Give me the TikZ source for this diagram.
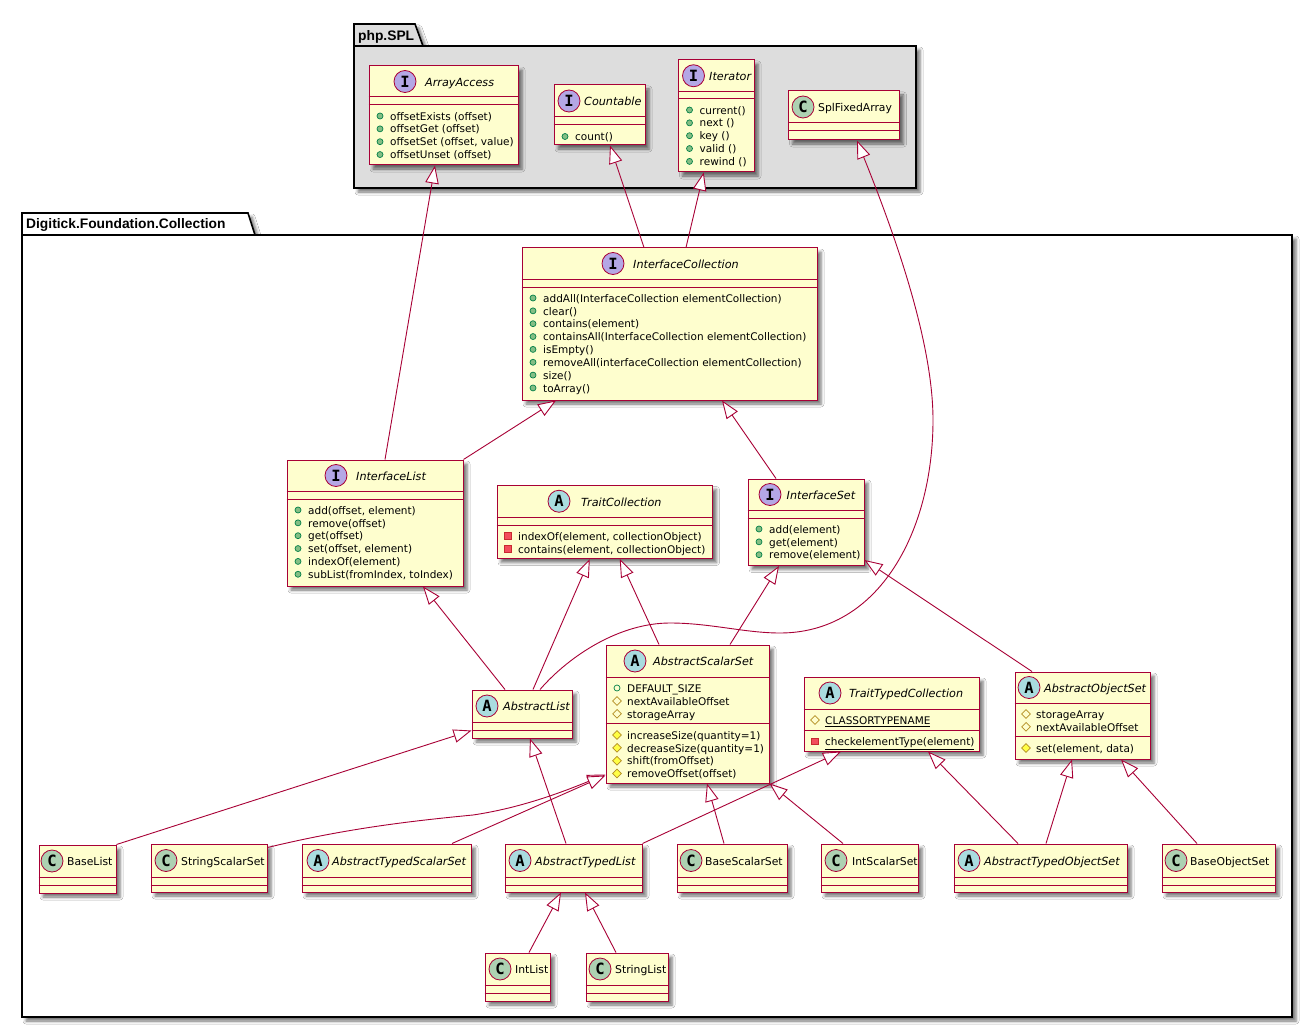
\documentclass[tikz,border=0pt]{standalone}
\usepackage{fontspec}
\setmainfont{DejaVu Sans}
\newfontfamily\spotfont{DejaVu Sans Mono}
\newfontfamily\pkgfont{Liberation Sans}
\usetikzlibrary{arrows.meta,positioning,calc,shapes.geometric,shadows.blur}
\definecolor{border}{HTML}{A80036}
\definecolor{cream}{HTML}{FEFECE}
\definecolor{pkgfill}{HTML}{DDDDDD}
\definecolor{spoti}{HTML}{B4A7E5}
\definecolor{spota}{HTML}{A9DCDF}
\definecolor{spotc}{HTML}{ADD1B2}
\definecolor{pubdraw}{HTML}{038048}
\definecolor{pubfill}{HTML}{84BE84}
\definecolor{protdraw}{HTML}{B38D22}
\definecolor{protfill}{HTML}{FFFF44}
\definecolor{privdraw}{HTML}{C82930}
\definecolor{privfill}{HTML}{F24D5C}
\tikzset{
  softshadow/.style={blur shadow={shadow xshift=4pt,shadow yshift=-4pt,shadow blur radius=3pt,shadow opacity=55}},
  package/.style={draw=black,line width=1.6pt,softshadow},
  pkgtitle/.style={anchor=west,inner sep=0pt,font=\pkgfont\fontsize{13.8}{15}\selectfont\bfseries},
  classbox/.style={draw=border,fill=cream,line width=1pt,inner sep=0pt,softshadow},
  classline/.style={draw=border,line width=1pt},
  spot/.style={circle,draw=border,line width=0.8pt,inner sep=0pt,minimum size=22pt,font=\spotfont\fontsize{15.5}{16}\selectfont\bfseries},
  spotI/.style={spot,fill=spoti},
  spotA/.style={spot,fill=spota},
  spotC/.style={spot,fill=spotc},
  titletext/.style={anchor=west,inner sep=0pt,text height=8pt,text depth=2.5pt,font=\fontsize{10.8}{13}\selectfont},
  titleI/.style={titletext,font=\fontsize{11.2}{13}\selectfont\itshape},
  titleA/.style={titleI},
  titleC/.style={titletext},
  rowtext/.style={anchor=west,inner sep=0pt,text height=7.5pt,text depth=2.2pt,font=\fontsize{10.5}{12}\selectfont},
  icon/.style={inner sep=0pt,line width=0.7pt},
  pubmethod/.style={icon,circle,minimum size=6pt,draw=pubdraw,fill=pubfill},
  pubfield/.style={icon,circle,minimum size=6pt,draw=pubdraw},
  protmethod/.style={icon,diamond,minimum size=9pt,draw=protdraw,fill=protfill},
  protfield/.style={icon,diamond,minimum size=9pt,draw=protdraw},
  privmethod/.style={icon,rectangle,minimum size=6.5pt,draw=privdraw,fill=privfill},
  realize/.style={draw=border,line width=0.9pt,-{Triangle[length=18pt,width=13.5pt,fill=white]}}
}
% box: name, left, top, right, bottom, first rule, second rule
\newcommand{\umlbox}[7]{
  \def\boxleft{#2}
  \def\headmid{(#3+#6)/2}
  \node[classbox,minimum width={(#4-#2)*1pt},minimum height={(#5-#3)*1pt}] (#1) at ({(#2+#4)/2},{(#3+#5)/2}) {};
  \draw[classline] (#1.west |- 0,#6) -- (#1.east |- 0,#6);
  \draw[classline] (#1.west |- 0,#7) -- (#1.east |- 0,#7);
}
% head: name, kind, spot x, text x
\newcommand{\umlhead}[4]{
  \node[spot#2] (#1-spot) at (#3,{\headmid}) {#2};
  \node[title#2] (#1-title) at (#4,{\headmid+2}) {#1};
}
% rows: prefix, icon style, y of first row, texts
\newcommand{\umlrows}[4]{
  \foreach \rowtxt [count=\rown] in {#4} {
    \node[#2] (#1-\rown-icon) at ({\boxleft+11},{#3+(\rown-1)*12.85}) {};
    \node[rowtext] (#1-\rown) at ({\boxleft+21},{#3+1.5+(\rown-1)*12.85}) {\rowtxt};
  }
}
\begin{document}
\begin{tikzpicture}[x=1pt,y=-1pt]
  \path[use as bounding box,fill=white] (0,0) rectangle (1312,1027);

  % packages
  \draw[package,fill=pkgfill] (354,46) -- (354,24) -- (415,24) -- (423,46) -- cycle;
  \node[package,fill=pkgfill,inner sep=0pt,minimum width=562pt,minimum height=142pt] (spl) at (635,117) {};
  \node[pkgtitle] (spl-title) at (358,36.5) {php.SPL};
  \draw[package,fill=white] (22,235) -- (22,213) -- (248,213) -- (255,235) -- cycle;
  \node[package,fill=white,inner sep=0pt,minimum width=1270pt,minimum height=782pt] (collection) at (657,626) {};
  \node[pkgtitle] (collection-title) at (26,225) {Digitick.Foundation.Collection};

  % php.SPL
  \umlbox{ArrayAccess}{369}{66}{518}{165}{97}{105}
  \umlhead{ArrayAccess}{I}{405}{425}
  \umlrows{aa}{pubmethod}{116}{offsetExists (offset),offsetGet (offset),{offsetSet (offset, value)},offsetUnset (offset)}

  \umlbox{Countable}{554}{85}{645}{145}{117}{125}
  \umlhead{Countable}{I}{569}{584}
  \umlrows{co}{pubmethod}{136.5}{count()}

  \umlbox{Iterator}{678.5}{60}{754}{172}{91.5}{99}
  \umlhead{Iterator}{I}{693.5}{709}
  \umlrows{it}{pubmethod}{110}{current(),next (),key (),valid (),rewind ()}

  \umlbox{SplFixedArray}{788.5}{91}{899.5}{140}{123}{131}
  \umlhead{SplFixedArray}{C}{803}{818}

  % Digitick.Foundation.Collection
  \umlbox{InterfaceCollection}{522}{248}{817}{400}{279}{287}
  \umlhead{InterfaceCollection}{I}{613}{633}
  \umlrows{ic}{pubmethod}{298}{addAll(InterfaceCollection elementCollection),clear(),contains(element),containsAll(InterfaceCollection elementCollection),isEmpty(),removeAll(interfaceCollection elementCollection),size(),toArray()}

  \umlbox{InterfaceList}{287}{460}{463}{586}{491}{499}
  \umlhead{InterfaceList}{I}{336}{356}
  \umlrows{il}{pubmethod}{510}{{add(offset, element)},remove(offset),get(offset),{set(offset, element)},indexOf(element),{subList(fromIndex, toIndex)}}

  \umlbox{TraitCollection}{497}{485.5}{712.5}{558.5}{517}{525}
  \umlhead{TraitCollection}{A}{559}{581}
  \umlrows{tc}{privmethod}{536}{{indexOf(element, collectionObject)},{contains(element, collectionObject)}}

  \umlbox{InterfaceSet}{748}{479}{864}{565.5}{510}{518}
  \umlhead{InterfaceSet}{I}{770}{786.5}
  \umlrows{is}{pubmethod}{529}{add(element),get(element),remove(element)}

  \umlbox{AbstractList}{472}{690}{572}{738}{722}{730}
  \umlhead{AbstractList}{A}{487}{503}

  \umlbox{AbstractScalarSet}{606}{645}{769}{783}{677}{723}
  \umlhead{AbstractScalarSet}{A}{635}{653}
  \umlrows{asf}{pubfield}{688}{DEFAULT\_SIZE}
  \umlrows{asp}{protfield}{701}{nextAvailableOffset,storageArray}
  \umlrows{asm}{protmethod}{735}{increaseSize(quantity=1),decreaseSize(quantity=1),shift(fromOffset),removeOffset(offset)}

  \umlbox{TraitTypedCollection}{804}{677}{979}{751}{709}{730}
  \umlhead{TraitTypedCollection}{A}{830}{849}
  \umlrows{ttf}{protfield}{720}{\underline{CLASSORTYPENAME}}
  \umlrows{ttm}{privmethod}{741.5}{\underline{checkelementType(element)}}

  \umlbox{AbstractObjectSet}{1015}{672}{1150}{759}{703}{736}
  \umlhead{AbstractObjectSet}{A}{1029}{1044}
  \umlrows{aof}{protfield}{714}{storageArray,nextAvailableOffset}
  \umlrows{aom}{protmethod}{748}{{set(element, data)}}

  \umlbox{BaseList}{39}{845}{116}{893}{877}{885}
  \umlhead{BaseList}{C}{52}{67}
  \umlbox{StringScalarSet}{151}{844}{267}{892}{877}{885}
  \umlhead{StringScalarSet}{C}{166}{181}
  \umlbox{AbstractTypedScalarSet}{302}{844}{471}{892}{877}{885}
  \umlhead{AbstractTypedScalarSet}{A}{318}{332}
  \umlbox{AbstractTypedList}{505}{844}{642}{892}{877}{885}
  \umlhead{AbstractTypedList}{A}{520}{535}
  \umlbox{BaseScalarSet}{677}{844}{787}{892}{877}{885}
  \umlhead{BaseScalarSet}{C}{691}{705}
  \umlbox{IntScalarSet}{821}{844}{918}{892}{877}{885}
  \umlhead{IntScalarSet}{C}{836}{852}
  \umlbox{AbstractTypedObjectSet}{954}{844}{1127}{892}{877}{885}
  \umlhead{AbstractTypedObjectSet}{A}{969}{984}
  \umlbox{BaseObjectSet}{1162}{844}{1275}{892}{877}{885}
  \umlhead{BaseObjectSet}{C}{1176}{1190}
  \umlbox{IntList}{485}{953}{550}{1001}{985}{993}
  \umlhead{IntList}{C}{500}{515}
  \umlbox{StringList}{586}{953}{668}{1001}{985}{993}
  \umlhead{StringList}{C}{600}{615}

  % realizations
  \draw[realize] ([xshift=-25.5]InterfaceCollection.north) -- ([xshift=10.5]Countable.south);
  \draw[realize] ([xshift=16.5]InterfaceCollection.north) -- ([xshift=-12.5]Iterator.south);
  \draw[realize] ([xshift=10]InterfaceList.north) -- ([xshift=-8.5]ArrayAccess.south);
  \draw[realize] (InterfaceList.north east) -- ([xshift=-113.5]InterfaceCollection.south);
  \draw[realize] ([xshift=-30]InterfaceSet.north) -- ([xshift=52.5]InterfaceCollection.south);
  \draw[realize] ([xshift=-17]AbstractList.north) -- ([xshift=48]InterfaceList.south);
  \draw[realize] ([xshift=11]AbstractList.north) -- ([xshift=-15]TraitCollection.south);
  \draw[realize] ([xshift=18]AbstractList.north) .. controls (570,655) and (620,623) .. (670,623)
    .. controls (710,623) and (745,633) .. (780,633) .. controls (880,633) and (933,530) .. (933,420)
    .. controls (933,340) and (893,230) .. ([xshift=13]SplFixedArray.south);
  \draw[realize] ([xshift=-28.5]AbstractScalarSet.north) -- ([xshift=15]TraitCollection.south);
  \draw[realize] ([xshift=42.5]AbstractScalarSet.north) -- ([xshift=-27]InterfaceSet.south);
  \draw[realize] ([xshift=-50.5]AbstractObjectSet.north) -- ([yshift=6]InterfaceSet.south east);
  \draw[realize] (BaseList.north east) -- ([yshift=8]AbstractList.south west);
  \draw[realize] ([yshift=-4]StringScalarSet.north east) .. controls (340,830) and (400,822) .. (473,815) .. controls (520,808) and (560,793) .. ([yshift=9]AbstractScalarSet.south west);
  \draw[realize] ([xshift=65.5]AbstractTypedScalarSet.north) -- ([yshift=8]AbstractScalarSet.south west);
  \draw[realize] ([xshift=-7.5]AbstractTypedList.north) -- ([xshift=8]AbstractList.south);
  \draw[realize] (AbstractTypedList.north east) -- ([xshift=-50.5]TraitTypedCollection.south);
  \draw[realize] ([xshift=-8]BaseScalarSet.north) -- ([xshift=19.5]AbstractScalarSet.south);
  \draw[realize] ([xshift=-26.5]IntScalarSet.north) -- (AbstractScalarSet.south east);
  \draw[realize] ([xshift=-22.5]AbstractTypedObjectSet.north) -- ([xshift=36.5]TraitTypedCollection.south);
  \draw[realize] ([xshift=5.5]AbstractTypedObjectSet.north) -- ([xshift=-10.5]AbstractObjectSet.south);
  \draw[realize] ([xshift=-21.5]BaseObjectSet.north) -- ([xshift=38.5]AbstractObjectSet.south);
  \draw[realize] ([xshift=11.5]IntList.north) -- ([xshift=-12.5]AbstractTypedList.south);
  \draw[realize] ([xshift=-11]StringList.north) -- ([xshift=11.5]AbstractTypedList.south);
\end{tikzpicture}
\end{document}
